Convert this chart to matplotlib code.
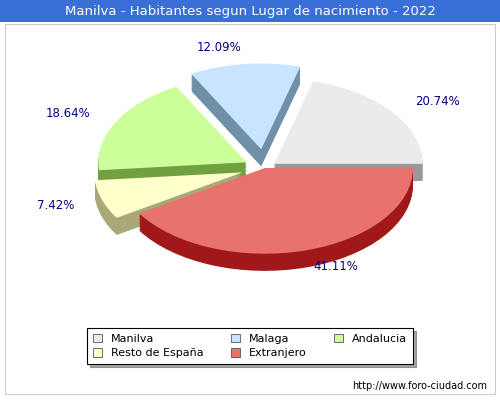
import matplotlib
matplotlib.use("Agg")
import matplotlib.pyplot as plt
from matplotlib.patches import Rectangle

categories = ["Manilva", "Malaga", "Andalucia", "Resto de España", "Extranjero"]
values = [20.74, 12.09, 18.64, 7.42, 41.11]
labels = ["20.74%", "12.09%", "18.64%", "7.42%", "41.11%"]
top_colors = ["#ebebeb", "#c8e4ff", "#ccff99", "#ffffcc", "#e8736c"]
side_colors = ["#999999", "#7090a8", "#70a040", "#a8a878", "#a01818"]
explode = [0.08, 0.22, 0.14, 0.16, 0.0]

fig = plt.figure(figsize=(5, 4), dpi=100)
fig.patch.set_facecolor("white")
fig.patches.append(Rectangle((0, 0.945), 1, 0.055, transform=fig.transFigure,
                             facecolor="#3a6fd8", edgecolor="none"))
fig.text(0.5, 0.972, "Manilva - Habitantes segun Lugar de nacimiento - 2022",
         color="white", ha="center", va="center", fontsize=9.5)
fig.patches.append(Rectangle((0.01, 0.015), 0.98, 0.925, transform=fig.transFigure,
                             facecolor="none", edgecolor="#cccccc", lw=0.8))

ax = fig.add_axes([0.1, 0.28, 0.8, 0.6])
depth = 0.2
steps = 12
for i in range(steps):
    dy = -depth + depth * i / steps
    ax.pie(values, startangle=0, counterclock=True, colors=side_colors,
           explode=explode, center=(0, dy), wedgeprops=dict(lw=0))
ax.pie(values, startangle=0, counterclock=True, colors=top_colors,
       explode=explode, center=(0, 0), labels=labels, labeldistance=1.2,
       textprops=dict(color="#00008b", fontsize=8.5), wedgeprops=dict(lw=0))
ax.set_aspect("auto")
ax.set_xlim(-1.45, 1.25)
ax.set_ylim(-1.4, 1.4)
ax.axis("off")

order = [0, 3, 1, 4, 2]
handles = [Rectangle((0, 0), 1, 1, facecolor=top_colors[i], edgecolor="#555555", lw=0.6) for i in order]
leg = fig.legend(handles, [categories[i] for i in order], loc="center", bbox_to_anchor=(0.5, 0.135),
                 ncol=3, fontsize=8, frameon=True, fancybox=False, shadow=True,
                 handlelength=0.8, handleheight=0.8, columnspacing=2.5,
                 borderpad=0.5, labelspacing=0.4)
leg.get_frame().set_edgecolor("#000000")
leg.get_frame().set_linewidth(0.8)

fig.text(0.975, 0.035, "http://www.foro-ciudad.com", ha="right", va="center", fontsize=7)
fig.savefig("out.png", dpi=100)
